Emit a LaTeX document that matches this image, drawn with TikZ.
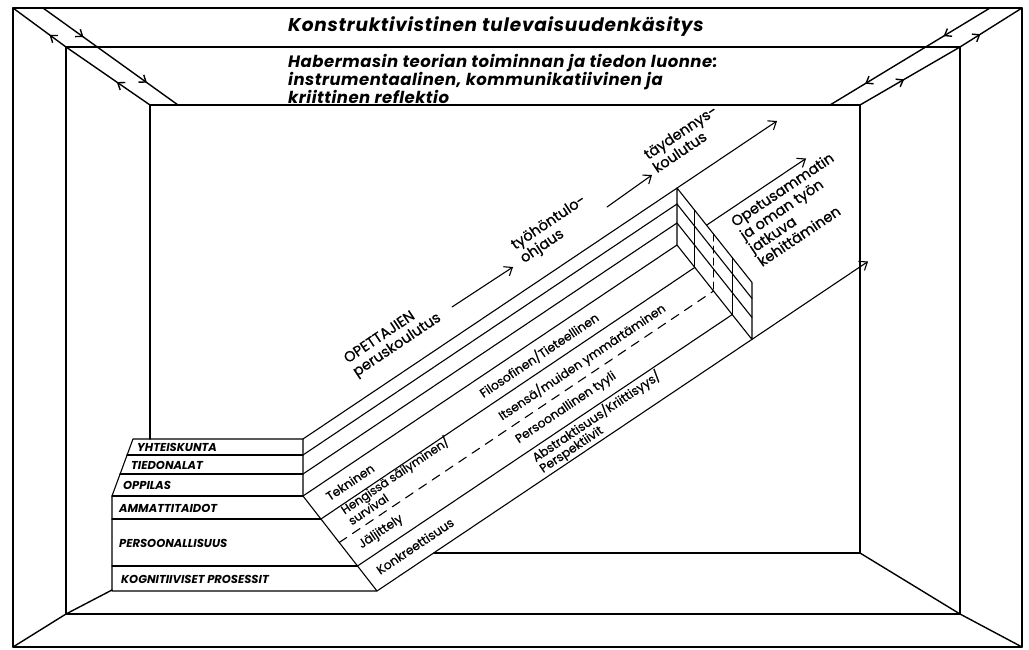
\documentclass[tikz,border=0pt]{standalone}
\usepackage{fontspec}
\setmainfont{Poppins}
\newfontfamily\demi{Poppins}[FakeBold=0.8]
\usetikzlibrary{arrows.meta,decorations.markings}

\begin{document}
\begin{tikzpicture}[x=1pt,y=-1pt,line cap=round,line join=round,
  wall/.style={line width=1.4pt},
  band/.style={line width=1.1pt},
  flow/.style={-{Straight Barb[length=7pt,width=11pt]}},
  barbs/.style 2 args={postaction={decorate,decoration={markings,
      mark=at position #1 with {\arrow{Straight Barb[length=6pt,width=9pt]}},
      mark=at position #2 with {\arrow{Straight Barb[length=6pt,width=9pt]}}}}},
  ttl/.style={anchor=west,inner sep=0pt,font=\bfseries\itshape\fontsize{18.5}{22}\selectfont\addfontfeatures{LetterSpace=4}},
  subttl/.style={anchor=north west,inner sep=0pt,align=left,font=\bfseries\itshape\fontsize{16.5}{18}\selectfont\addfontfeatures{LetterSpace=3}},
  stairlbl/.style={anchor=west,inner sep=0pt,font=\bfseries\itshape\fontsize{11.5}{12}\selectfont},
  bigtext/.style={rotate=33.9,inner sep=0pt,align=left,font=\demi\fontsize{14.5}{16}\selectfont},
  layertext/.style={rotate=33.9,inner sep=0pt,align=left,font=\demi\fontsize{12.3}{13}\selectfont}]
  \useasboundingbox (0,0) rectangle (1029,650);

  % room: three frames and the corner bands
  \draw[wall] (13,8) rectangle (1022,647);
  \draw[wall] (66,47) rectangle (960,614);
  \draw[wall] (150,439) -- (150,105) -- (860,105) -- (860,553) -- (434,553);
  \draw[wall,barbs={0.24}{0.73}] (150,105) -- (66,47) -- (13,8);
  \draw[wall,barbs={0.30}{0.77}] (43,8) -- (178,105);
  \draw[wall,barbs={0.29}{0.78}] (990,8) -- (830,105);
  \draw[wall,barbs={0.27}{0.74}] (860,105) -- (960,47) -- (1022,8);
  \draw[wall] (860,553) -- (960,614) -- (1022,647);
  \draw[wall] (112,590) -- (66,614) -- (13,647);

  \node[ttl] (title) at (288,27) {Konstruktivistinen tulevaisuudenkäsitys};
  \node[subttl] (haber) at (288,54) {Habermasin teorian toiminnan ja tiedon luonne:\\instrumentaalinen, kommunikatiivinen ja\\kriittinen reflektio};

  % staircase
  \draw[band] (133,439) -- (303,439) -- (303,496) -- (377,591) -- (112,591) -- (112,496) -- cycle;
  \draw[band] (127,455) -- (303,455) (120,474) -- (303,474) (112,496) -- (303,496)
    (112,519) -- (321,519) (112,566) -- (357.5,566);
  \node[stairlbl] (yht) at (137,447.5) {YHTEISKUNTA};
  \node[stairlbl] (tied) at (131,465) {TIEDONALAT};
  \node[stairlbl] (oppi) at (123,485.5) {OPPILAS};
  \node[stairlbl] (amma) at (119,508) {AMMATTITAIDOT};
  \node[stairlbl] (pers) at (119,543) {PERSOONALLISUUS};
  \node[stairlbl] (kogn) at (121,579) {KOGNITIIVISET PROSESSIT};

  % band of layers
  \draw[band,flow] (303,439) -- (777,121);
  \draw[band] (303,455) -- (677,204);
  \draw[band] (303,474) -- (677,223);
  \draw[band] (303,496) -- (677,245);
  \draw[band,flow] (706.5,225.2) -- (806,158.5);
  \draw[band] (321,519) -- (694.8,267.4);
  \draw[band,dashed,dash pattern=on 9pt off 7pt] (339.2,542.5) -- (713.6,291);
  \draw[band] (357.5,566) -- (732.2,314.6);
  \draw[band,flow] (377,591) -- (868,261.5);

  % end slab
  \draw[band] (677,188) -- (677,245) -- (752,339.5) -- (752,282.5) -- cycle;
  \draw[band] (677,204) -- (752,298.5) (677,223) -- (752,317.5);
  \draw[band] (694.8,210.4) -- (694.8,267.4) (732.2,257.6) -- (732.2,314.6);
  \draw[band,dash pattern=on 7pt off 5pt] (713.6,234.1) -- (713.6,291);

  % texts along the band
  \node[bigtext,anchor=north west] (opet) at (342,355) {OPETTAJIEN\\peruskoulutus};
  \node[bigtext,anchor=north west] (tyo) at (509,241) {työhöntulo-\\ohjaus};
  \node[bigtext,anchor=north west] (tayd) at (642,151) {täydennys-\\koulutus};
  \node[bigtext,anchor=north west] (opam) at (729,218) {Opetusammatin\\ja oman työn\\jatkuva\\kehittäminen};
  \coordinate (s1) at (452,307); \coordinate (e1) at (513,267);
  \coordinate (s2) at (607,207); \coordinate (e2) at (652,175);
  \draw[band,flow] (s1) -- (e1);
  \draw[band,flow] (s2) -- (e2);

  \node[layertext] (tekn) at (350,482) {Tekninen};
  \node[layertext] (filo) at (539,355) {Filosofinen/Tieteellinen};
  \node[layertext,font=\demi\fontsize{11.8}{11.8}\selectfont] (heng) at (398,480) {Hengissä säilyminen/\\survival};
  \node[layertext] (itse) at (582,362) {Itsensä/muiden ymmärtäminen};
  \node[layertext] (jalj) at (381,532) {Jäljittely};
  \node[layertext] (pyyl) at (566,408) {Persoonallinen tyyli};
  \node[layertext] (konk) at (415,546) {Konkreettisuus};
  \node[layertext] (abst) at (600,422) {Abstraktisuus/Kriittisyys/\\Perspektiivit};
\end{tikzpicture}
\end{document}
